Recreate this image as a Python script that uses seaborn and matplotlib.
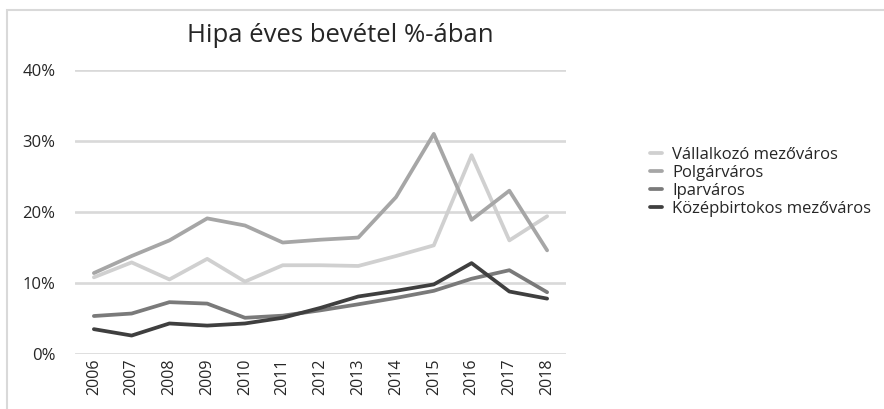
import pandas as pd
import matplotlib.pyplot as plt
import seaborn as sns
from matplotlib.patches import Rectangle
from matplotlib.ticker import PercentFormatter

sns.set_style("white")
plt.rcParams['font.family'] = ['Open Sans', 'DejaVu Sans']

years = ['2006', '2007', '2008', '2009', '2010', '2011', '2012',
         '2013', '2014', '2015', '2016', '2017', '2018']

vallalkozo = [10.8, 12.9, 10.5, 13.4, 10.2, 12.5, 12.5, 12.4, 13.8, 15.3, 28.0, 16.0, 19.4]
polgar = [11.4, 13.8, 16.0, 19.1, 18.1, 15.7, 16.1, 16.4, 22.1, 31.0, 18.9, 23.0, 14.6]
ipar = [5.35, 5.7, 7.3, 7.1, 5.1, 5.4, 6.15, 7.0, 7.9, 8.9, 10.6, 11.8, 8.7]
kozep = [3.5, 2.6, 4.3, 4.0, 4.3, 5.1, 6.5, 8.1, 8.9, 9.8, 12.8, 8.8, 7.8]

series_names = ['Vállalkozó mezőváros', 'Polgárváros', 'Iparváros',
                'Középbirtokos mezőváros']
series_colors = ['#d0d0d0', '#a6a6a6', '#7a7a7a', '#3f3f3f']

rows = []
for name, vals in zip(series_names, [vallalkozo, polgar, ipar, kozep]):
    for i, v in enumerate(vals):
        rows.append({'idx': i, 'ev': years[i], 'ertek': v / 100, 'tipus': name})
df = pd.DataFrame(rows)

fig = plt.figure(figsize=(8.84, 4.09), dpi=100)
ax = fig.add_axes([75 / 884, 1 - 354 / 409, 491 / 884, 284 / 409])

# chart border
fig.patches.append(Rectangle((7 / 884, -0.1), 1.0, 1 - 10 / 409 + 0.1,
                             transform=fig.transFigure, fill=False,
                             edgecolor='#d9d9d9', linewidth=1.5))

sns.lineplot(data=df, x='idx', y='ertek', hue='tipus', hue_order=series_names,
             palette=series_colors, linewidth=2.7, ax=ax, legend=True)

ax.set_xlim(-0.5, 12.5)
ax.set_ylim(0, 0.4)
ax.set_yticks([0, 0.1, 0.2, 0.3, 0.4])
ax.yaxis.set_major_formatter(PercentFormatter(1.0, decimals=0))
ax.set_xticks(range(len(years)))
ax.set_xticklabels(years, rotation=90)
ax.tick_params(axis='x', labelsize=11.5, pad=3, length=0, colors='#262626')
ax.tick_params(axis='y', labelsize=12, pad=14, length=0, colors='#262626')
ax.grid(axis='y', color='#d9d9d9', linewidth=1.9)
ax.set_axisbelow(True)
for s in ax.spines.values():
    s.set_visible(False)
ax.set_xlabel('')
ax.set_ylabel('')

fig.text(340 / 884, 1 - 36 / 409, 'Hipa éves bevétel %-ában', ha='center',
         va='center', fontsize=18.5, color='#262626')

handles, labels = ax.get_legend_handles_labels()
ax.legend_.remove()
fig.legend(handles, labels, loc='upper left', bbox_to_anchor=(643 / 884, 1 - 140 / 409),
           frameon=False, fontsize=12, handlelength=0.75, handletextpad=0.6,
           labelspacing=0.12, borderaxespad=0)

fig.savefig('out.png', dpi=100)
